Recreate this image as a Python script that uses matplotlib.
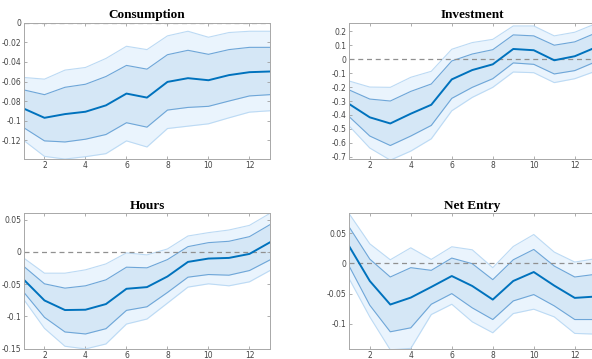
import numpy as np
import matplotlib.pyplot as plt

h = np.arange(1, 14)

titles = ["Consumption", "Investment", "Hours", "Net Entry"]

cons_mid = [-0.0877, -0.0970, -0.0932, -0.0908, -0.0843, -0.0723, -0.0764, -0.0604, -0.0566, -0.0587, -0.0535, -0.0505, -0.0498]
cons_in_hi = [-0.0686, -0.0734, -0.0659, -0.0628, -0.0549, -0.0436, -0.0474, -0.0327, -0.0282, -0.0323, -0.0275, -0.0252, -0.0252]
cons_in_lo = [-0.1072, -0.1205, -0.1216, -0.1188, -0.1140, -0.1020, -0.1065, -0.0891, -0.0864, -0.0853, -0.0799, -0.0747, -0.0734]
cons_out_hi = [-0.0559, -0.0576, -0.0484, -0.0457, -0.0365, -0.0241, -0.0275, -0.0135, -0.0088, -0.0149, -0.0101, -0.0088, -0.0088]
cons_out_lo = [-0.1202, -0.1363, -0.1390, -0.1366, -0.1335, -0.1205, -0.1267, -0.1079, -0.1055, -0.1031, -0.0970, -0.0912, -0.0898]

inv_mid = [-0.322, -0.417, -0.461, -0.391, -0.327, -0.145, -0.078, -0.037, 0.073, 0.064, -0.008, 0.021, 0.083]
inv_in_hi = [-0.221, -0.286, -0.300, -0.231, -0.178, -0.013, 0.037, 0.068, 0.174, 0.167, 0.100, 0.124, 0.186]
inv_in_lo = [-0.413, -0.551, -0.619, -0.551, -0.475, -0.281, -0.202, -0.140, -0.027, -0.037, -0.106, -0.082, -0.020]
inv_out_hi = [-0.157, -0.200, -0.202, -0.130, -0.087, 0.071, 0.119, 0.142, 0.238, 0.238, 0.167, 0.193, 0.253]
inv_out_lo = [-0.480, -0.637, -0.724, -0.659, -0.571, -0.370, -0.274, -0.202, -0.092, -0.097, -0.168, -0.140, -0.087]

hrs_mid = [-0.0433, -0.0753, -0.0902, -0.0897, -0.0809, -0.0572, -0.0546, -0.0381, -0.0155, -0.0103, -0.0093, -0.0031, 0.0149]
hrs_in_hi = [-0.0227, -0.0495, -0.0562, -0.0526, -0.0433, -0.0237, -0.0247, -0.0119, 0.0082, 0.0144, 0.0165, 0.0237, 0.0423]
hrs_in_lo = [-0.0629, -0.1015, -0.1242, -0.1273, -0.1191, -0.0907, -0.0851, -0.0629, -0.0392, -0.0351, -0.0361, -0.0289, -0.0124]
hrs_out_hi = [-0.0098, -0.0330, -0.0330, -0.0278, -0.0186, -0.0015, -0.0046, 0.0046, 0.0247, 0.0299, 0.0340, 0.0412, 0.0598]
hrs_out_lo = [-0.0742, -0.1186, -0.1464, -0.1505, -0.1428, -0.1119, -0.1041, -0.0794, -0.0546, -0.0495, -0.0526, -0.0464, -0.0289]

ent_mid = [0.0280, -0.0291, -0.0681, -0.0566, -0.0390, -0.0209, -0.0374, -0.0599, -0.0291, -0.0143, -0.0368, -0.0571, -0.0549]
ent_in_hi = [0.0599, 0.0071, -0.0225, -0.0071, -0.0115, 0.0088, -0.0005, -0.0269, 0.0060, 0.0231, -0.0044, -0.0225, -0.0181]
ent_in_lo = [-0.0049, -0.0692, -0.1132, -0.1066, -0.0676, -0.0500, -0.0736, -0.0929, -0.0621, -0.0516, -0.0703, -0.0929, -0.0929]
ent_out_hi = [0.0819, 0.0324, 0.0060, 0.0258, 0.0066, 0.0275, 0.0225, -0.0071, 0.0280, 0.0478, 0.0187, 0.0022, 0.0077]
ent_out_lo = [-0.0258, -0.0885, -0.1430, -0.1407, -0.0846, -0.0676, -0.0967, -0.1148, -0.0830, -0.0758, -0.0885, -0.1159, -0.1170]

series = [
    (cons_mid, cons_in_lo, cons_in_hi, cons_out_lo, cons_out_hi),
    (inv_mid, inv_in_lo, inv_in_hi, inv_out_lo, inv_out_hi),
    (hrs_mid, hrs_in_lo, hrs_in_hi, hrs_out_lo, hrs_out_hi),
    (ent_mid, ent_in_lo, ent_in_hi, ent_out_lo, ent_out_hi),
]

ylims = [(-0.139, 0.0), (-0.716, 0.262), (-0.15, 0.060), (-0.141, 0.083)]
yticks = [
    [-0.12, -0.1, -0.08, -0.06, -0.04, -0.02, 0],
    [-0.7, -0.6, -0.5, -0.4, -0.3, -0.2, -0.1, 0, 0.1, 0.2],
    [-0.15, -0.1, -0.05, 0, 0.05],
    [-0.1, -0.05, 0, 0.05],
]

# axes boxes in figure fractions (right column runs off the canvas, like the source)
boxes = [
    [0.0405, 0.557, 0.4155, 0.380],
    [0.590, 0.557, 0.4155, 0.380],
    [0.0405, 0.029, 0.4155, 0.377],
    [0.590, 0.029, 0.4155, 0.377],
]

fig = plt.figure(figsize=(5.92, 3.59), dpi=100)

for i in range(4):
    mid, in_lo, in_hi, out_lo, out_hi = series[i]
    ax = fig.add_axes(boxes[i])
    ax.fill_between(h, out_lo, out_hi, color="#eaf4fd", lw=0)
    ax.fill_between(h, in_lo, in_hi, color="#d5e7f6", lw=0)
    ax.plot(h, out_hi, color="#bcdaf4", lw=0.8)
    ax.plot(h, out_lo, color="#bcdaf4", lw=0.8)
    ax.plot(h, in_hi, color="#6ea6d8", lw=0.8)
    ax.plot(h, in_lo, color="#6ea6d8", lw=0.8)
    ax.axhline(0, color="#909090", lw=0.9, ls=(0, (4, 3)))
    ax.plot(h, mid, color="#0072BD", lw=1.4)
    ax.set_xlim(1, 13)
    ax.set_ylim(ylims[i])
    ax.set_xticks([2, 4, 6, 8, 10, 12])
    ax.set_yticks(yticks[i])
    ax.set_yticklabels([("%g" % t) for t in yticks[i]])
    ax.tick_params(direction="in", length=2, width=0.6, colors="#a0a0a0",
                   labelcolor="#444444", labelsize=5.5, top=True, right=True, pad=2)
    ax.tick_params(axis="x", pad=1.5)
    for s in ax.spines.values():
        s.set_color("#a8a8a8")
        s.set_linewidth(0.7)
    ax.set_title(titles[i], family="Liberation Serif", fontweight="bold",
                 fontsize=9.5, pad=3)

fig.savefig("out.png", dpi=100)
